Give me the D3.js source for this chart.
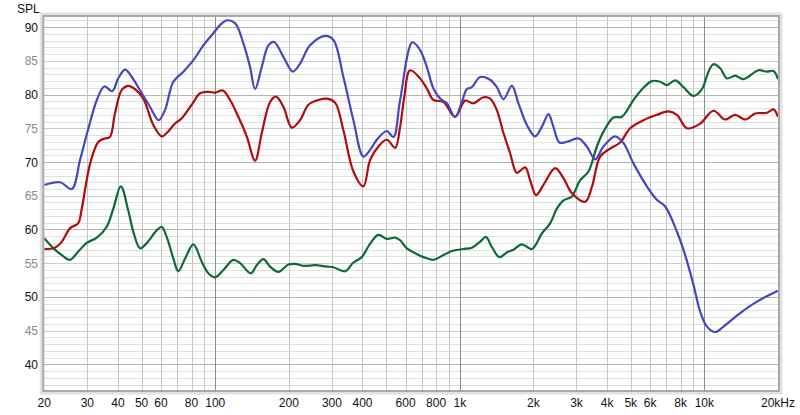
<!DOCTYPE html>
<html><head><meta charset="utf-8">
<script src="https://cdn.jsdelivr.net/npm/d3@7"></script>
<style>body{margin:0;background:#fff}svg text{font-family:"Liberation Sans",Arial,sans-serif;}</style>
</head><body><svg id="c" width="800" height="415"></svg>
<script>
// ---- data (frequency Hz, SPL dB) ----
const blueF=[20,23.2,25.9,28,30.3,32.8,35.2,37.9,40.1,42.8,45.6,49.3,54.1,58.7,62.3,67.4,74.1,81.4,89.4,98.2,104.6,111.4,120.5,130.3,138.8,145.5,155,164.9,174,189.9,207.5,222.2,244.2,281.4,304.2,334.2,367.2,403.4,429.7,457.7,502.8,535.2,570,640,688,733,780,831,885,957,1019,1068,1120,1211,1330,1417,1508,1632,1737,1880,2032,2165,2304,2414,2555,2739,3055,3307,3577,3868,4318,4669,5129,5818,6394,6914,7718,8346,9026,9614,10240,11070,11970,14008,16398,20000];
const blueV=[66.6,67.0,66.0,70.3,75.0,79.2,81.2,80.5,82.4,83.7,82.6,80.6,78.2,76.2,77.7,81.9,83.4,85.1,87.3,89.1,90.3,91.0,90.6,87.6,84.1,80.8,84.1,87.3,87.8,85.6,83.4,84.6,87.3,88.7,88.1,82.6,76.2,70.8,71.8,73.3,74.6,73.7,79.2,87.75,86.6,84.1,80.9,79.4,78.7,76.7,78.9,80.8,81.1,82.6,82.2,81.1,79.3,81.3,78.7,75.5,73.8,75.2,77.1,75.2,72.9,73.0,73.5,72.3,70.4,72.3,73.8,72.8,69.8,66.4,64.4,63.4,59.7,56.2,51.8,47.8,45.6,44.8,45.6,47.6,49.3,50.9];

const redF=[20,22.1,23.6,25.5,27.5,28.4,30.8,33.3,35.4,37.1,38.9,41.5,44.1,47,50.8,55.8,60.4,63.3,68.5,73,80.2,86.7,93.7,99.8,107.4,115,124.3,134.5,145.5,155,167.6,177.3,189.9,205.6,222.2,240.4,264.2,285.8,309,334.2,367.2,403.4,429.7,464.6,502.8,543.8,570,592,626,688,733,780,857,957,1051,1137,1249,1330,1417,1508,1606,1711,1850,1939,2051,2198,2454,2654,2872,3256,3468,3748,4118,4524,4972,5636,6394,7132,7718,8482,9614,10894,12166,13366,14686,16136,18016,19170,20000];
const redV=[57.1,57.3,58.2,60.2,60.9,62.9,69.8,73.0,73.5,73.7,77.2,80.7,81.3,80.8,79.4,75.5,73.8,74.3,75.7,76.5,78.5,80.2,80.4,80.3,80.6,79.2,76.7,73.8,70.2,74.3,78.9,79.7,78.2,75.1,76.2,78.5,79.2,79.4,78.8,74.7,68.6,66.4,70.3,72.3,73.3,72.1,75.2,79.5,83.6,82.4,80.9,79.2,78.9,76.7,79.1,78.7,79.6,79.4,77.7,74.3,71.3,68.4,69.2,67.3,65.1,66.6,69.1,67.6,65.4,64.1,66.3,70.8,72.0,72.9,75.0,76.2,77.0,77.5,77.0,75.0,75.7,77.6,76.3,77.0,76.3,77.2,77.3,77.8,76.7];

const greenF=[20,21.8,23.6,25.5,27.5,29.8,32.8,36,38.3,41.1,44.1,46.2,49.3,52.5,57.7,60.4,63.3,67.4,70.6,75.3,81.4,88.1,93.7,99.8,108,118.6,126.4,139.7,147.8,157.3,167.6,181.2,199.1,212,229.3,256,285.8,304.2,339.6,367.2,397.4,429.7,464.6,502.8,543.8,570,607,656,710,780,857,928,1034,1120,1211,1278,1352,1452,1557,1657,1793,1970,2165,2340,2493,2654,2872,3105,3358,3634,3868,4249,4598,5129,5636,6100,6596,7024,7596,8214,9026,9770,10394,10894,11604,12362,13366,14450,16646,18016,19170,20000];
const greenV=[58.7,57.2,56.2,55.5,56.7,58.0,58.8,60.4,63.1,66.4,62.8,59.7,57.2,58.0,59.9,60.4,58.9,55.7,53.8,55.7,57.8,55.2,53.5,52.9,54.0,55.5,55.0,53.5,54.7,55.6,54.5,53.7,54.8,54.9,54.6,54.7,54.5,54.4,53.8,55.1,55.9,57.9,59.2,58.6,58.8,58.4,57.2,56.5,55.9,55.5,56.2,56.8,57.1,57.3,58.2,58.9,57.4,55.9,56.6,57.0,57.8,57.1,59.4,60.9,63.1,64.3,64.9,67.3,68.6,72.3,74.5,76.6,76.7,79.2,81.0,82.0,81.9,81.4,82.1,81.1,79.8,80.8,83.4,84.5,83.9,82.4,82.8,82.3,83.6,83.4,83.5,82.3];

const yTicks=[40,45,50,55,60,65,70,75,80,85,90];
const xTickVals=[20,30,40,50,60,80,100,200,300,400,600,800,1000,2000,3000,4000,5000,6000,8000,10000,20000];
const xTickLabels=["20","30","40","50","60","80","100","200","300","400","600","800","1k","2k","3k","4k","5k","6k","8k","10k","20kHz"];
const series=[
  {f:greenF,v:greenV,color:"#0b6a36"},
  {f:redF,v:redV,color:"#b00c0c"},
  {f:blueF,v:blueV,color:"#4646c2"}
];

// ---- layout ----
const L=44.3,R=778,T=17,B=390;
const svg=d3.select("#c");
const x=d3.scaleLog().domain([20,20000]).range([L,R]);
const y=d3.scaleLinear().domain([36.2,91.5]).range([B,T]);

// frame shadow
svg.append("rect").attr("x",L-3).attr("y",T-3).attr("width",R-L+6).attr("height",B-T+6)
  .attr("fill","none").attr("stroke","#e2e2e2").attr("stroke-width",3);
svg.append("rect").attr("x",L).attr("y",T).attr("width",R-L).attr("height",B-T).attr("fill","#fff");

const g=svg.append("g");
// horizontal grid
const hLines=d3.range(37,92,1);
g.selectAll("line.h").data(hLines).join("line")
  .attr("x1",L).attr("x2",R).attr("y1",d=>Math.round(y(d))+0.5).attr("y2",d=>Math.round(y(d))+0.5)
  .attr("stroke",d=>d%10===0?"#b4b4b4":(d%5===0?"#cdcdcd":"#e0e0e0")).attr("stroke-width",1);
// vertical grid
const vLines=[];
[10,100,1000,10000].forEach(dec=>{for(let k=1;k<10;k++){const f=dec*k;if(f>20&&f<20000)vLines.push(f);}});
g.selectAll("line.v").data(vLines).join("line")
  .attr("y1",T).attr("y2",B).attr("x1",d=>Math.round(x(d))+0.5).attr("x2",d=>Math.round(x(d))+0.5)
  .attr("stroke",d=>[100,1000,10000].includes(d)?"#8c8c8c":"#c4c4c4").attr("stroke-width",1);

// frame border
svg.append("rect").attr("x",L-1).attr("y",T-1).attr("width",R-L+2).attr("height",B-T+2)
  .attr("fill","none").attr("stroke","#a8a8a8").attr("stroke-width",2);

// curves
const line=d3.line().curve(d3.curveCatmullRom.alpha(0.5)).x(d=>x(d[0])).y(d=>y(d[1]));
const clip=svg.append("clipPath").attr("id","pc").append("rect").attr("x",L).attr("y",T).attr("width",R-L).attr("height",B-T);
series.forEach(s=>{
  svg.append("path").datum(s.f.map((f,i)=>[f,s.v[i]]))
    .attr("d",line).attr("fill","none").attr("stroke",s.color).attr("stroke-width",2.2)
    .attr("stroke-linejoin","round").attr("clip-path","url(#pc)");
});

// y labels
svg.selectAll("text.y").data(yTicks).join("text")
  .attr("x",38).attr("y",d=>y(d)+4.5).attr("text-anchor","end").attr("font-size",12)
  .attr("fill",d=>d%10===0?"#111":"#8a8a8a").text(d=>d);
svg.append("text").attr("x",17).attr("y",13).attr("font-size",12).attr("fill","#111").text("SPL");
// x labels
svg.selectAll("text.x").data(xTickVals).join("text")
  .attr("x",d=>x(d)).attr("y",407).attr("text-anchor","middle").attr("font-size",12).attr("fill","#111")
  .text((d,i)=>xTickLabels[i]);
</script></body></html>
